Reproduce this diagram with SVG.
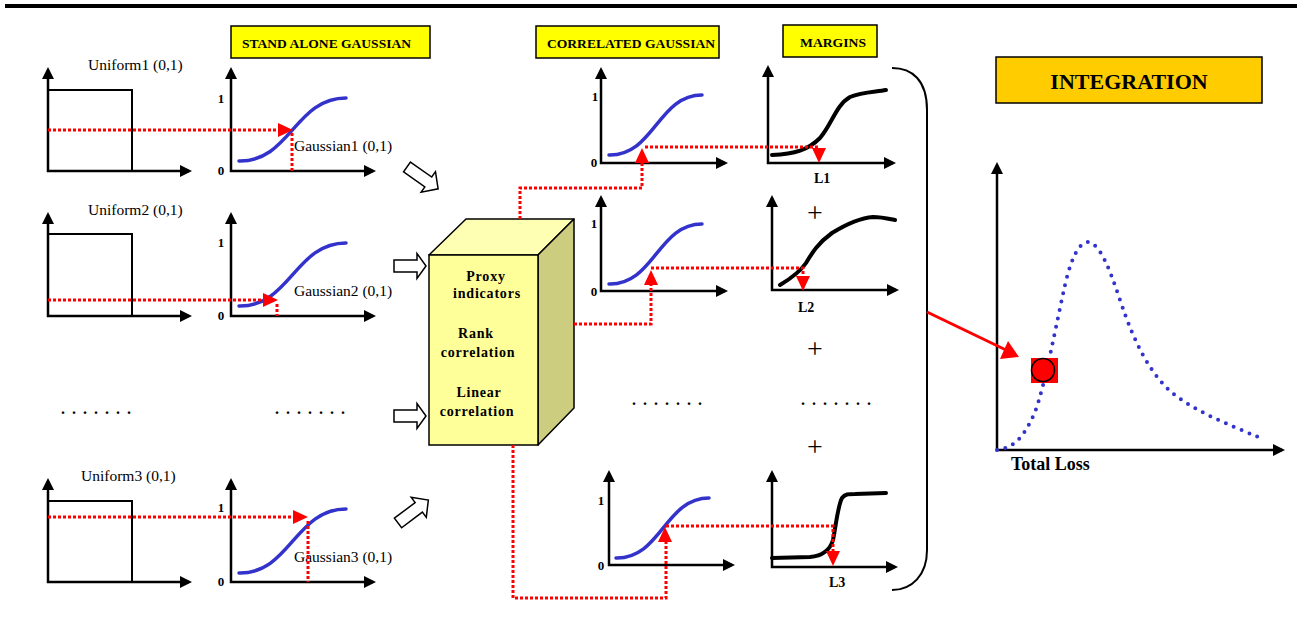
<svg xmlns="http://www.w3.org/2000/svg" xmlns:xlink="http://www.w3.org/1999/xlink" width="1297" height="624" viewBox="0 0 1297 624">
<style>
.ax{fill:none;stroke:#000;stroke-width:2.5;marker-start:url(#ah);marker-end:url(#ah)}
.ur{fill:none;stroke:#000;stroke-width:2}
.bc{fill:none;stroke:#3333CC;stroke-width:3.5;stroke-linecap:round}
.kc{fill:none;stroke:#000;stroke-width:4;stroke-linecap:round}
.rd{fill:none;stroke:#FF0000;stroke-width:3;stroke-dasharray:3 2}
.lab{font-family:"Liberation Serif",serif;font-size:15.5px;fill:#000}
.num{font-family:"Liberation Serif",serif;font-size:13px;font-weight:bold;fill:#000;text-anchor:middle}
.hd{font-family:"Liberation Serif",serif;font-size:12px;font-weight:bold;fill:#000}
.bx{font-family:"Liberation Serif",serif;font-size:14px;font-weight:bold;fill:#000;text-anchor:middle;letter-spacing:0.8px}
.ll{font-family:"Liberation Serif",serif;font-size:14px;font-weight:bold;fill:#000}
.dots{font-family:"Liberation Serif",serif;font-size:16px;font-weight:bold;fill:#000;letter-spacing:7px}
.plus{font-family:"Liberation Serif",serif;font-size:28px;fill:#000;text-anchor:middle}
.hollow{fill:#fff;stroke:#000;stroke-width:1.5;stroke-linejoin:miter}
.ybox{fill:#FFFF00;stroke:#000;stroke-width:1.5}
</style>
<defs>
<marker id="ah" viewBox="0 0 12 12" refX="9" refY="6" markerWidth="12" markerHeight="12" orient="auto-start-reverse" markerUnits="userSpaceOnUse"><path d="M0,0 L12,6 L0,12 Z" fill="#000"/></marker>
<path id="tri" d="M0,0 L-15,-7 L-15,7 Z" fill="#FF0000"/>
<path id="harr" d="M0,-6 H23 V-12.5 L32,0 L23,12.5 V6 H0 Z"/>
<path id="darr" d="M0,-6 H26 V-12.5 L38,0 L26,12.5 V6 H0 Z"/>
</defs>

<rect x="5" y="4" width="1292" height="4" fill="#000"/>

<g id="label-standalone"><rect class="ybox" x="231" y="26" width="199" height="32"/><text class="hd" x="242" y="48" textLength="169" lengthAdjust="spacingAndGlyphs">STAND ALONE GAUSSIAN</text></g>
<g id="label-correlated"><rect class="ybox" x="536" y="26" width="183" height="32"/><text class="hd" x="547" y="48" textLength="168" lengthAdjust="spacingAndGlyphs">CORRELATED GAUSSIAN</text></g>
<g id="label-margins"><rect class="ybox" x="783" y="25" width="94" height="32"/><text class="hd" x="800" y="47" textLength="66" lengthAdjust="spacingAndGlyphs">MARGINS</text></g>
<g id="label-integration"><rect x="996" y="57" width="266" height="46" fill="#FFCC00" stroke="#000" stroke-width="1.5"/><text x="1129" y="89" text-anchor="middle" font-family="Liberation Serif, serif" font-size="22" font-weight="bold">INTEGRATION</text></g>

<g id="uniform1"><path class="ax" d="M48,70 V171 H189"/><path class="ur" d="M48,90 H132 V171"/><text class="lab" x="88" y="70">Uniform1 (0,1)</text></g>
<g id="uniform2"><path class="ax" d="M48,215 V316 H189"/><path class="ur" d="M48,234 H132 V316"/><text class="lab" x="88" y="215">Uniform2 (0,1)</text></g>
<g id="uniform3"><path class="ax" d="M48,481 V582 H189"/><path class="ur" d="M48,501 H132 V582"/><text class="lab" x="81" y="481">Uniform3 (0,1)</text></g>

<g id="gauss1"><path class="ax" d="M231,70 V171 H373"/><text class="num" x="221" y="103">1</text><text class="num" x="221" y="175">0</text><path class="bc" d="M239,161 C290,162 295,98 346,98"/><text class="lab" x="294" y="151">Gaussian1 (0,1)</text></g>
<g id="gauss2"><path class="ax" d="M231,215 V316 H373"/><text class="num" x="221" y="247">1</text><text class="num" x="221" y="320">0</text><path class="bc" d="M239,306 C290,307 295,243 346,243"/><text class="lab" x="294" y="296">Gaussian2 (0,1)</text></g>
<g id="gauss3"><path class="ax" d="M231,481 V582 H373"/><text class="num" x="221" y="512">1</text><text class="num" x="221" y="586">0</text><path class="bc" d="M239,573 C290,574 295,509 346,509"/><text class="lab" x="294" y="562">Gaussian3 (0,1)</text></g>

<g id="dots-left"><text class="dots" x="61" y="414">.......</text><text class="dots" x="275" y="414">.......</text></g>

<g id="hollow-arrows">
<use xlink:href="#darr" class="hollow" transform="translate(407,167) rotate(35)"/>
<use xlink:href="#harr" class="hollow" transform="translate(394,266)"/>
<use xlink:href="#harr" class="hollow" transform="translate(394,416)"/>
<use xlink:href="#darr" class="hollow" transform="translate(398,523) rotate(-37)"/>
</g>

<g id="box">
<path d="M429,255 L466,219 H574 L538,255 Z" fill="#FFFFB3" stroke="#000" stroke-width="1.5" stroke-linejoin="round"/>
<path d="M538,255 L574,219 V408 L538,445 Z" fill="#CDCD80" stroke="#000" stroke-width="1.5" stroke-linejoin="round"/>
<rect x="429" y="255" width="109" height="190" fill="#FFFF99" stroke="#000" stroke-width="1.5"/>
<text class="bx" x="486" y="281">Proxy</text>
<text class="bx" x="487" y="298">indicators</text>
<text class="bx" x="476" y="338">Rank</text>
<text class="bx" x="478" y="357">correlation</text>
<text class="bx" x="479" y="397">Linear</text>
<text class="bx" x="477" y="416">correlation</text>
</g>

<g id="cgauss1"><path class="ax" d="M601,70 V163 H725"/><text class="num" x="595" y="101">1</text><text class="num" x="594" y="167">0</text><path class="bc" d="M609,155 C654,156 658,95 702,95"/></g>
<g id="cgauss2"><path class="ax" d="M601,198 V291 H725"/><text class="num" x="594" y="228">1</text><text class="num" x="594" y="296">0</text><path class="bc" d="M609,284 C654,285 658,224 702,224"/></g>
<g id="cgauss3"><path class="ax" d="M609,473 V565 H732"/><text class="num" x="601" y="505">1</text><text class="num" x="601" y="570">0</text><path class="bc" d="M616,558 C661,559 665,498 709,498"/></g>

<g id="margin1"><path class="ax" d="M768,68 V163 H893"/><path class="kc" d="M772,155 C795,154 808,150 820,138 C832,124 836,105 850,97 C862,92 875,92 886,90"/><text class="ll" x="814" y="183">L1</text></g>
<g id="margin2"><path class="ax" d="M772,198 V290 H896"/><path class="kc" d="M780,285 C790,279 800,272 806,263 C812,253 818,243 832,233 C845,225 860,218 873,217 C882,217 890,219 895,220"/><text class="ll" x="798" y="312">L2</text></g>
<g id="margin3"><path class="ax" d="M772,473 V567 H895"/><path class="kc" d="M772,558 L810,557 C822,556 830,550 833,540 C836,525 838,505 842,498 C845,494 848,494 855,494 L886,493"/><text class="ll" x="829" y="587">L3</text></g>

<g id="plus-signs"><text class="plus" x="815" y="222">+</text><text class="plus" x="815" y="358">+</text><text class="plus" x="815" y="456">+</text></g>
<g id="dots-mid"><text class="dots" x="632" y="405">.......</text><text class="dots" x="801" y="405">.......</text></g>

<g id="bracket"><path d="M892,68 C912,68 927,80 927,110 V550 C927,575 912,590 892,590" fill="none" stroke="#000" stroke-width="2"/></g>

<g id="total-loss">
<path class="ax" d="M997,165 V450 H1282"/>
<path d="M997,450 C1015,448 1025,435 1035,412 C1045,385 1055,330 1065,285 C1072,255 1080,242 1088,242 C1100,243 1110,270 1120,300 C1135,345 1150,372 1170,391 C1195,412 1230,425 1258,437" fill="none" stroke="#3333CC" stroke-width="4" stroke-linecap="round" stroke-dasharray="0 8.5"/>
<rect x="1031" y="358" width="27" height="25" fill="#FF0000"/>
<circle cx="1043" cy="370" r="11.5" fill="#FF0000" stroke="#000" stroke-width="1.5"/>
<text x="1011" y="470" font-family="Liberation Serif, serif" font-size="18" font-weight="bold">Total Loss</text>
</g>

<g id="connectors">
<path class="rd" d="M48,130 H279 M292,133 V171"/>
<path class="rd" d="M48,300 H264 M277,304 V316"/>
<path class="rd" d="M48,517 H294 M308,521 V582"/>
<path class="rd" d="M520,219 V188 H642 V163 M645,147 H819 V149"/>
<path class="rd" d="M574,324 H651 V283 M651,268 H803 V278"/>
<path class="rd" d="M513,445 V598 H666 V542 M666,526 H833 V552"/>
<use xlink:href="#tri" transform="translate(293,130)"/>
<use xlink:href="#tri" transform="translate(278,300)"/>
<use xlink:href="#tri" transform="translate(308,517)"/>
<use xlink:href="#tri" transform="translate(642,148) rotate(-90)"/>
<use xlink:href="#tri" transform="translate(819,163) rotate(90)"/>
<use xlink:href="#tri" transform="translate(651,270) rotate(-90)"/>
<use xlink:href="#tri" transform="translate(803,291) rotate(90)"/>
<use xlink:href="#tri" transform="translate(665,527) rotate(-90)"/>
<use xlink:href="#tri" transform="translate(833,566) rotate(90)"/>
<path d="M927,312 L1006,350" stroke="#FF0000" stroke-width="3" fill="none"/>
<path d="M1019,357 L1000,359 L1008,341 Z" fill="#FF0000"/>
</g>
</svg>
